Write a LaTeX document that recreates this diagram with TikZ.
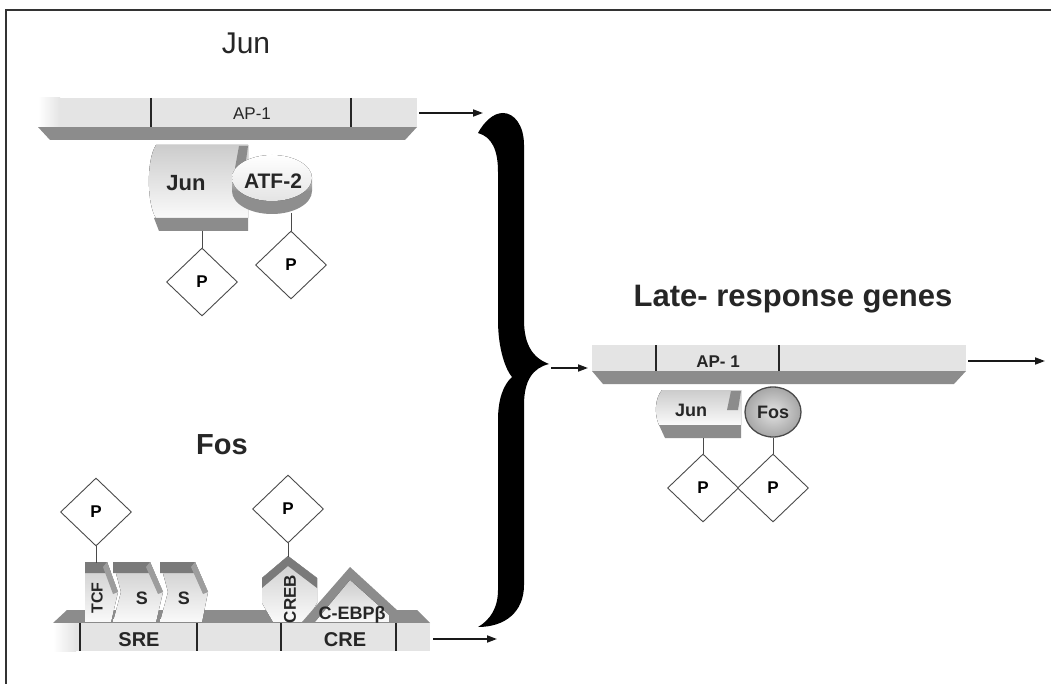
\documentclass[tikz,border=0pt]{standalone}
\usepackage{fontspec}
\setmainfont{Liberation Sans}
\usetikzlibrary{arrows.meta,shapes.geometric}
\definecolor{face}{HTML}{E4E4E4}
\definecolor{bev}{HTML}{8C8C8C}
\definecolor{band}{HTML}{7A7A7A}
\definecolor{protlo}{HTML}{FAFAFA}
\definecolor{prothi}{HTML}{CCCCCC}
\definecolor{edge}{HTML}{4A4A4A}
\definecolor{sidehi}{HTML}{C6C6C6}
\definecolor{sidelo}{HTML}{8E8E8E}
\definecolor{fosin}{HTML}{E2E2E2}
\definecolor{fosout}{HTML}{A6A6A6}
\newcommand{\myfs}[1]{\fontsize{#1}{#1}\selectfont}
\begin{document}
\begin{tikzpicture}[x=1pt,y=-1pt,
  pbox/.style={diamond, draw=edge, line width=0.9pt, fill=white,
    minimum width=71pt, minimum height=68pt, inner sep=0pt, font=\bfseries\myfs{17}},
  stem/.style={draw=edge, line width=0.9pt},
  arr/.style={line width=1.8pt, black!90, -{Triangle[length=10pt,width=7pt]}},
  tickline/.style={line width=2pt, black!85},
  lbl/.style={font=\bfseries\myfs{#1}, inner sep=0pt, text=black!85},
  shapefill/.style={top color=prothi, bottom color=protlo},
]
\useasboundingbox (0,0) rectangle (1051,684);
\fill[white] (0,0) rectangle (1051,684);
% border
\draw[line width=2.4pt, black!80] (6,684) -- (6,10) -- (1051,10);

% ================= Jun =================
\node[anchor=base, font=\myfs{30}, text=black!85, inner sep=0pt] (tJun) at (246,54) {Jun};
\fill[bev] (38,127) -- (417,127) -- (405,140) -- (50,140) -- cycle;
\fill[face] (38,98) rectangle (417,127);
\fill[left color=white, right color=face] (38,98) rectangle (60,127);
\draw[tickline] (151,98) -- (151,127);
\draw[tickline] (351,98) -- (351,127);
\node[font=\myfs{17}, inner sep=0pt, text=black!85] (ap1) at (252,114) {AP-1};
\coordinate (junOut) at (419,113);
\coordinate (braceTopIn) at (483,113);
\draw[arr] (junOut) -- (braceTopIn);

% Jun protein
\fill[shapefill] (156,145) -- (248,145) -- (248,218) -- (156,218)
   .. controls (147,205) and (146,160) .. (156,145) -- cycle;
\fill[bev] (154,218) -- (248,218) -- (248,231) -- (159,231) -- cycle;
\fill[bev] (239,146) -- (248,146) -- (245,168) -- (235,168) -- cycle;
% ATF-2 cylinder
\fill[sidelo] (272,191) ellipse [x radius=40, y radius=23];
\fill[top color=sidehi, bottom color=sidelo] (232,178) rectangle (312,191);
\fill[top color=white, bottom color=face] (272,178) ellipse [x radius=40, y radius=23];
\node[lbl=22] (junA) at (186,183) {Jun};
\node[lbl=21] (atf) at (273,181) {ATF-2};
\coordinate (junB) at (202,231);
\coordinate (atfB) at (291,213);
\node[pbox] (pJun) at (202,282) {P};
\node[pbox] (pAtf) at (291,265) {P};
\draw[stem] (junB) -- (pJun.north);
\draw[stem] (atfB) -- (pAtf.north);

% ================= Fos =================
\node[anchor=base, font=\bfseries\myfs{29}, text=black!85, inner sep=0pt] (tFos) at (222,454) {Fos};
\fill[bev] (67,610) -- (417,610) -- (430,623) -- (53,623) -- cycle;
% S2
\fill[shapefill] (160,562) -- (195,562) -- (208,592) -- (202,622) -- (160,622) -- (168,592) -- cycle;
\fill[band] (160,562) -- (195,562) -- (199,573) -- (160,573) -- cycle;
\fill[bev!85] (195,562) -- (208,592) -- (203,594) -- (191,567) -- cycle;
% S1
\fill[shapefill] (113,562) -- (150,562) -- (163,592) -- (156,622) -- (113,622) -- (121,592) -- cycle;
\fill[band] (113,562) -- (150,562) -- (154,573) -- (113,573) -- cycle;
\fill[bev!85] (150,562) -- (163,592) -- (158,594) -- (146,567) -- cycle;
% TCF
\fill[shapefill] (85,562) -- (107,562) -- (118,592) -- (111,622) -- (85,622) -- cycle;
\fill[band] (85,562) -- (107,562) -- (111,573) -- (85,573) -- cycle;
\fill[bev!85] (107,562) -- (118,592) -- (113,594) -- (103,567) -- cycle;
% CREB
\fill[shapefill] (262,578) -- (288,556) -- (317,578) -- (317,603) -- (306,622)
   -- (273,622) -- (262,603) -- cycle;
\fill[band] (262,578) -- (288,556) -- (317,578) -- (317,588) -- (288,566) -- (262,588) -- cycle;
% C-EBPbeta
\fill[bev] (350,567) -- (398,611) -- (398,622) -- (302,622) -- cycle;
\fill[shapefill] (350,580) -- (389,615) -- (389,622) -- (315,622) -- cycle;
% bar face
\fill[face] (53,623) rectangle (430,651);
\fill[left color=white, right color=face] (53,623) rectangle (76,651);
\draw[tickline] (80,623) -- (80,651);
\draw[tickline] (197,623) -- (197,651);
\draw[tickline] (281,623) -- (281,651);
\draw[tickline] (396,623) -- (396,651);
\node[lbl=20] (sre) at (139,640) {SRE};
\node[lbl=20] (cre) at (345,640) {CRE};
\node[lbl=16, rotate=90] (tcf) at (97,598) {TCF};
\node[lbl=18] (s1) at (142,598) {S};
\node[lbl=18] (s2) at (184,598) {S};
\node[lbl=17, rotate=90] (creb) at (290,599) {CREB};
\node[lbl=18] (cebp) at (352,615) {C-EBPβ};
\node[pbox] (pTcf) at (96,512) {P};
\node[pbox] (pCreb) at (288,509) {P};
\coordinate (tcfTop) at (96,563);
\coordinate (crebTop) at (288,557);
\draw[stem] (pTcf.south) -- (tcfTop);
\draw[stem] (pCreb.south) -- (crebTop);
\coordinate (fosOut) at (433,639);
\coordinate (braceBotIn) at (497,639);
\draw[arr] (fosOut) -- (braceBotIn);

% ================= brace =================
\fill[black] (549,364)
  .. controls (533,358) and (524,345) .. (524,320)
  -- (524,145)
  .. controls (524,125) and (514,113) .. (503,113)
  .. controls (493,113) and (484,122) .. (478,133)
  .. controls (492,137) and (498,150) .. (498,172)
  -- (498,320)
  .. controls (498,350) and (506,370) .. (512,377)
  .. controls (503,385) and (498,400) .. (498,420)
  -- (498,590)
  .. controls (498,608) and (490,620) .. (478,627)
  .. controls (505,627) and (524,612) .. (524,585)
  -- (524,405)
  .. controls (524,380) and (533,368) .. (549,364)
  -- cycle;
\coordinate (braceTip) at (551,368);

% ================= Late-response genes =================
\node[anchor=base, font=\bfseries\myfs{31}, text=black!85, inner sep=0pt] (tLate) at (793,307) {Late- response genes};
\fill[bev] (592,371) -- (966,371) -- (954,384) -- (603,384) -- cycle;
\fill[face] (592,345) rectangle (966,371);
\draw[tickline] (656,345) -- (656,371);
\draw[tickline] (779,345) -- (779,371);
\node[lbl=17] (ap1L) at (718,362) {AP- 1};
\coordinate (lateIn) at (588,368);
\draw[arr] (braceTip) -- (lateIn);
\coordinate (lateOut) at (968,361);
\coordinate (lateEnd) at (1045,361);
\draw[arr] (lateOut) -- (lateEnd);

% Jun (late)
\fill[shapefill] (662,390) -- (741,390) -- (741,425) -- (659,425)
   .. controls (654,414) and (655,398) .. (662,390) -- cycle;
\fill[bev] (659,425) -- (741,425) -- (741,438) -- (665,438) -- cycle;
\fill[bev] (731,391) -- (741,391) -- (738,410) -- (727,410) -- cycle;
\node[lbl=18] (junL) at (691,410) {Jun};
% Fos (late)
\node[ellipse, draw=edge, line width=1.3pt, inner color=fosin, outer color=fosout,
  minimum width=56pt, minimum height=50pt, inner sep=0pt, font=\bfseries\myfs{18}, text=black!85]
  (fosL) at (773,412) {Fos};
\coordinate (junLB) at (703,438);
\node[pbox] (pJunL) at (703,488) {P};
\node[pbox] (pFosL) at (773,488) {P};
\draw[stem] (junLB) -- (pJunL.north);
\draw[stem] (fosL.south) -- (pFosL.north);
\end{tikzpicture}
\end{document}
